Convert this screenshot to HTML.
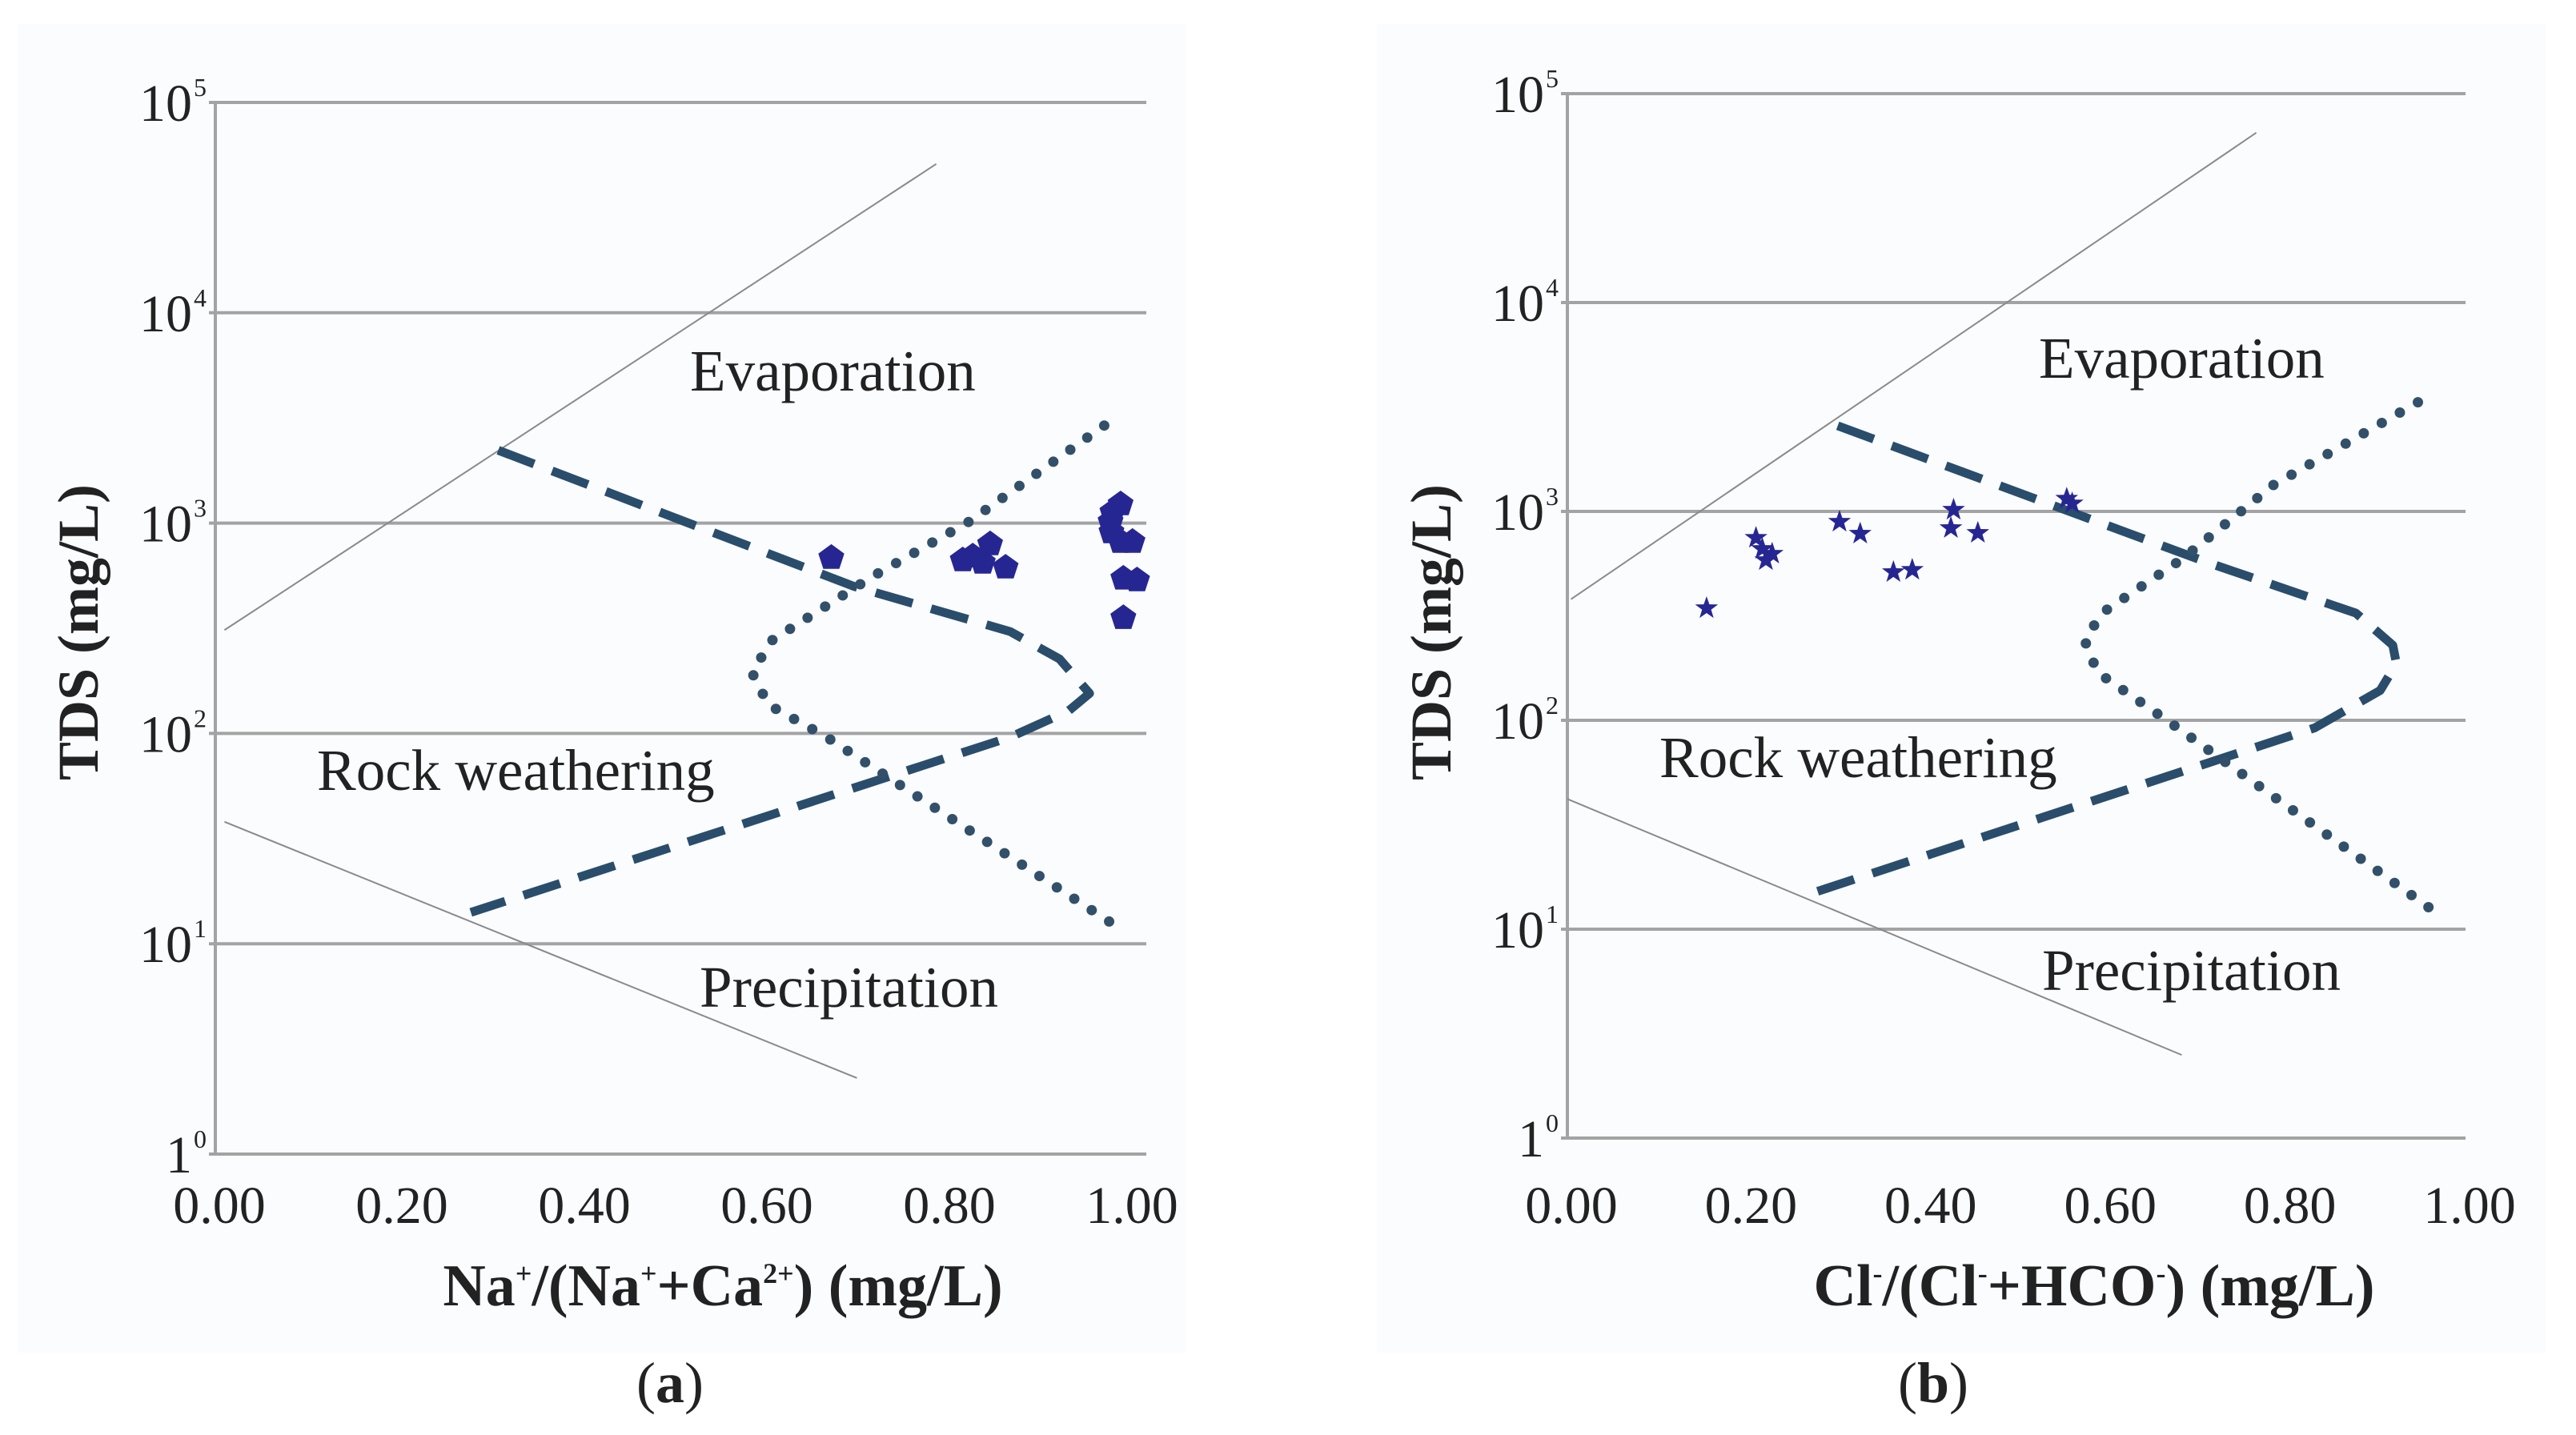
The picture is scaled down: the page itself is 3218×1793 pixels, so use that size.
<!DOCTYPE html>
<html><head><meta charset="utf-8">
<style>
html,body{margin:0;padding:0;background:#ffffff;}
svg{display:block;}
text{font-family:"Liberation Serif",serif;fill:#222;}
</style></head>
<body>
<svg id="fig" width="3218" height="1793" viewBox="0 0 3218 1793" xmlns="http://www.w3.org/2000/svg">
<rect x="0" y="0" width="3218" height="1793" fill="#ffffff"/>
<rect x="22" y="30" width="1460" height="1660" fill="#fbfcfe"/>
<rect x="1720" y="30" width="1460" height="1660" fill="#fbfcfe"/>
<g id="pa"></g>
<g id="pb"></g>
</svg>
<script>
// ---------- data ----------
const yTickExps = [0,1,2,3,4,5];
const xTickLabels = ["0.00","0.20","0.40","0.60","0.80","1.00"];
const xTickValues = [0,0.2,0.4,0.6,0.8,1.0];

// Panel a: Na/(Na+Ca)
const aEvapX = [0.01, 0.79];
const aEvapY = [310, 51000];
const aPrecX = [0.01, 0.703];
const aPrecY = [38, 2.3];
const aDashX = [0.31, 0.70, 0.871, 0.925, 0.958, 0.935, 0.871, 0.28];
const aDashY = [2220, 500, 305, 226, 155, 128, 96, 14.1];
const aDotX = [0.974, 0.826, 0.72, 0.61, 0.588, 0.606, 0.67, 0.99];
const aDotY = [2910, 1016, 557, 277, 195, 137, 96, 11.9];
const aPtsX = [0.675,0.819,0.830,0.841,0.849,0.866,0.992,0.983,0.981,0.982,0.992,1.005,0.995,1.01,0.995];
const aPtsY = [684,666,695,649,794,615,1230,1125,1014,905,815,815,545,535,354];

// Panel b: Cl/(Cl+HCO3)
const bEvapX = [0.004, 0.767];
const bEvapY = [380, 65000];
const bPrecX = [0.0, 0.684];
const bPrecY = [42, 2.5];
const bDashX = [0.301, 0.713, 0.878, 0.919, 0.923, 0.905, 0.832, 0.275];
const bDashY = [2570, 569, 326, 229, 187, 139, 92, 15.0];
const bDotX = [0.947, 0.786, 0.685, 0.595, 0.576, 0.59, 0.672, 0.965];
const bDotY = [3330, 1337, 594, 326, 241, 170, 97, 12.2];
const bPtsX = [0.155,0.210,0.217,0.228,0.221,0.303,0.326,0.363,0.384,0.43,0.427,0.457,0.556,0.562];
const bPtsY = [344,747,661,627,584,892,782,512,525,1018,832,789,1150,1092];

const NS = "http://www.w3.org/2000/svg";
function mk(tag, attrs, parent){
  const e = document.createElementNS(NS, tag);
  for (const k in attrs) e.setAttribute(k, attrs[k]);
  parent.appendChild(e);
  return e;
}

function panel(g, cfg){
  const X = v => cfg.x0 + v*(cfg.x1-cfg.x0);
  const Y = v => cfg.yBase - Math.log10(v)*cfg.dec;
  yTickExps.forEach(ex=>{
    const y = cfg.yBase - ex*cfg.dec;
    const ln = mk("line",{x1:cfg.x0-8,y1:y,x2:cfg.gridEnd,y2:y,stroke:"#a3a3a3","stroke-width":4},g);
    
    
    const t = mk("text",{x:cfg.x0-29,y:y+23,"font-size":66,"text-anchor":"end"},g);
    
    
    t.textContent = ex===0 ? "1" : "10";
    const s = mk("text",{x:cfg.x0-27,y:y-8,"font-size":32,"text-anchor":"start"},g);
    
    
    s.textContent = String(ex);
  });
  const ax = mk("line",{x1:cfg.x0,y1:cfg.yBase-5*cfg.dec,x2:cfg.x0,y2:cfg.yBase,stroke:"#a3a3a3","stroke-width":4},g);
  
  
  xTickValues.forEach((v,i)=>{
    const t = mk("text",{x:X(v)+5,y:1528,"font-size":66,"text-anchor":"middle"},g);
    
    
    t.textContent = xTickLabels[i];
  });
  const thin = (xs,ys,name)=>{
    const l = mk("line",{x1:X(xs[0]),y1:Y(ys[0]),x2:X(xs[1]),y2:Y(ys[1]),stroke:"#8a8a8a","stroke-width":2},g);
    
    
  };
  thin(cfg.evX,cfg.evY,'evaporation-boundary-line');
  thin(cfg.prX,cfg.prY,'precipitation-boundary-line');
  const pts = (xs,ys)=>xs.map((v,i)=>X(v).toFixed(1)+","+Y(ys[i]).toFixed(1)).join(" ");
  const d = mk("polyline",{points:pts(cfg.dashX,cfg.dashY),fill:"none",stroke:"#2a4d6c","stroke-width":11,"stroke-dasharray":"48 24","stroke-linejoin":"round"},g);
  
  
  const dt = mk("polyline",{points:pts(cfg.dotX,cfg.dotY),fill:"none",stroke:"#33506a","stroke-width":13,"stroke-dasharray":"0 26","stroke-linecap":"round","stroke-linejoin":"round"},g);
  
  
  cfg.px.forEach((v,i)=>{
    const cx = X(v), cy = Y(cfg.py[i]);
    let p = [];
    if (cfg.star){
      for(let k=0;k<10;k++){const r=k%2?6:15;const a=-Math.PI/2+k*Math.PI/5;p.push((cx+r*Math.cos(a)).toFixed(1)+","+(cy+r*Math.sin(a)).toFixed(1));}
    } else {
      for(let k=0;k<5;k++){const a=-Math.PI/2+k*2*Math.PI/5;p.push((cx+17*Math.cos(a)).toFixed(1)+","+(cy+17*Math.sin(a)).toFixed(1));}
    }
    const m = mk("polygon",{points:p.join(" "),fill:"#262693"},g);
    
    
  });
  const lab = (txt,x,y,name)=>{
    const t = mk("text",{x:x,y:y,"font-size":73},g);
    
    
    t.textContent = txt;
  };
  lab("Evaporation",cfg.lab[0][0],cfg.lab[0][1],'evaporation-label');
  lab("Rock weathering",cfg.lab[1][0],cfg.lab[1][1],'rock-weathering-label');
  lab("Precipitation",cfg.lab[2][0],cfg.lab[2][1],'precipitation-label');
  const yt = mk("text",{x:0,y:0,"font-size":72,"font-weight":"bold","text-anchor":"middle",transform:"translate("+cfg.ytX+",790) rotate(-90)"},g);
  
  
  yt.textContent = "TDS (mg/L)";
  const xt = mk("text",{x:cfg.xtX,y:1631,"font-size":74,"font-weight":"bold","text-anchor":"middle"},g);
  
  
  xt.innerHTML = cfg.xtitle;
  const pl = mk("text",{x:cfg.xtX-66+cfg.plOff,y:1752,"font-size":72,"text-anchor":"middle"},g);
  
  
  pl.innerHTML = cfg.plabel;
}

panel(document.getElementById("pa"),{
  x0:269,x1:1409,gridEnd:1432,yBase:1442,dec:262.8,
  evX:aEvapX,evY:aEvapY,prX:aPrecX,prY:aPrecY,dashX:aDashX,dashY:aDashY,dotX:aDotX,dotY:aDotY,
  px:aPtsX,py:aPtsY,star:false,
  lab:[[862,488],[396,987],[874,1258]],ytX:122,xtX:903,plOff:0,
  xtitle:'Na<tspan dy="-28" font-size="36">+</tspan><tspan dy="28">/(Na</tspan><tspan dy="-28" font-size="36">+</tspan><tspan dy="28">+Ca</tspan><tspan dy="-28" font-size="36">2+</tspan><tspan dy="28">) (mg/L)</tspan>',
  plabel:'(<tspan font-weight="bold">a</tspan>)'
});
panel(document.getElementById("pb"),{
  x0:1958,x1:3080,gridEnd:3080,yBase:1422,dec:261,
  evX:bEvapX,evY:bEvapY,prX:bPrecX,prY:bPrecY,dashX:bDashX,dashY:bDashY,dotX:bDotX,dotY:bDotY,
  px:bPtsX,py:bPtsY,star:true,
  lab:[[2547,472],[2073,971],[2551,1237]],ytX:1812,xtX:2616,plOff:-135,
  xtitle:'Cl<tspan dy="-28" font-size="36">-</tspan><tspan dy="28">/(Cl</tspan><tspan dy="-28" font-size="36">-</tspan><tspan dy="28">+HCO</tspan><tspan dy="-28" font-size="36">-</tspan><tspan dy="28">) (mg/L)</tspan>',
  plabel:'(<tspan font-weight="bold">b</tspan>)'
});
</script>
</body></html>
